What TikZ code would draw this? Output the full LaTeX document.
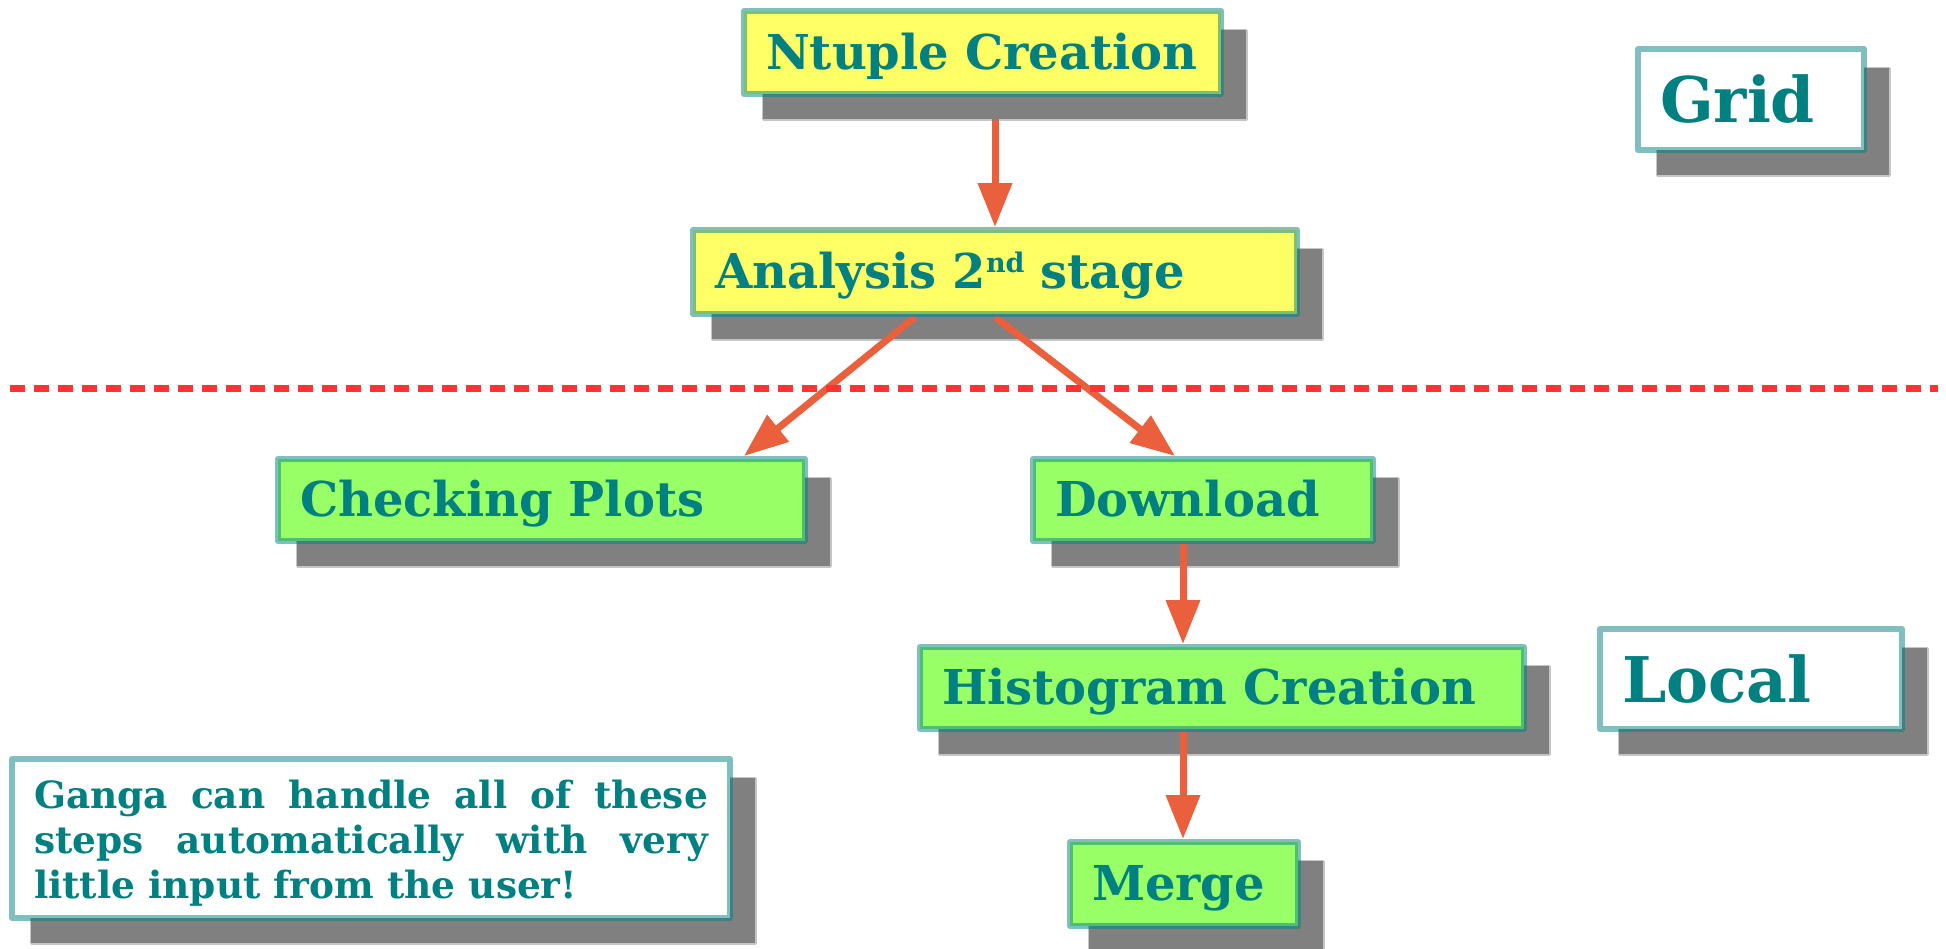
\documentclass[tikz,border=0pt]{standalone}
\usepackage{fontspec}
\setmainfont{DejaVu Serif}
\usetikzlibrary{arrows.meta}
\definecolor{txt}{HTML}{008080}
\definecolor{yfill}{HTML}{FFFF66}
\definecolor{gfill}{HTML}{99FF66}
\definecolor{shadowc}{HTML}{808080}
\definecolor{arrowc}{RGB}{234,96,60}
\definecolor{dashc}{HTML}{FF3333}
\pgfdeclarelayer{bg}
\pgfdeclarelayer{under}
\pgfdeclarelayer{shadowlayer}
\pgfdeclarelayer{arrowlayer}
\pgfsetlayers{bg,under,shadowlayer,arrowlayer,main}
\newcommand{\supnd}{\raisebox{16pt}{\fontsize{27}{27}\selectfont nd}}
\begin{document}
\begin{tikzpicture}[x=1pt,y=-1pt,
  box/.style={anchor=north west, draw=txt, draw opacity=0.5, line width=6pt, line join=round,
    inner xsep=22pt, inner ysep=0pt, align=left, text=txt,
    font=\bfseries\fontsize{48}{56}\selectfont},
  onebox/.style={box, text height=44pt, text depth=11pt},
  ybox/.style={onebox, fill=yfill},
  gbox/.style={onebox, fill=gfill},
  wbox/.style={box, fill=white},
  bigtext/.style={font=\bfseries\fontsize{63}{70}\selectfont, text height=48pt, text depth=2pt},
  shadowst/.style={fill=shadowc, draw=shadowc, draw opacity=0.45, line width=3pt, line join=round},
  arr/.style={draw=arrowc, line width=7pt, -{Triangle[length=44pt,width=33pt]}},
  sep/.style={draw=dashc, line width=7pt, dash pattern=on 15pt off 9pt}]
\begin{pgfonlayer}{bg}
\fill[white] (0,0) rectangle (1946,948);
\end{pgfonlayer}
\useasboundingbox (0,0) rectangle (1946,948);

\node[ybox, text width=433pt, minimum height=83pt] (nt) at (741,8) {Ntuple Creation};
\node[wbox, bigtext, text width=182pt, minimum height=101pt] (grid) at (1635,46) {Grid};
\node[ybox, text width=560pt, minimum height=84pt] (an) at (690,227) {Analysis 2\supnd{} stage};
\node[gbox, text width=483pt, minimum height=82pt] (cp) at (275,456) {Checking Plots};
\node[gbox, text width=296pt, minimum height=82pt] (dl) at (1030,456) {Download};
\node[gbox, text width=560pt, minimum height=82pt] (hc) at (917,644) {Histogram Creation};
\node[wbox, bigtext, text width=258pt, minimum height=100pt] (loc) at (1597,626) {Local};
\node[wbox, text width=674pt, minimum height=159pt, align=justify,
  font=\bfseries\fontsize{37.5}{45}\selectfont] (ganga) at (9,756)
  {\rule{0pt}{38pt}Ganga can handle all of these\linebreak steps automatically with very\linebreak little input from the user!};
\node[gbox, text width=184pt, minimum height=84pt] (mg) at (1067,839) {Merge};

\begin{pgfonlayer}{shadowlayer}
\foreach \n in {nt,grid,an,cp,dl,hc,loc,ganga,mg}
  \path[shadowst] ([shift={(22pt,-22pt)}]\n.north west) rectangle ([shift={(22pt,-22pt)}]\n.south east);
\end{pgfonlayer}

\coordinate (sepL) at (10,388);
\coordinate (sepR) at (1938,388);
\draw[sep] (sepL) -- (sepR);

\begin{pgfonlayer}{under}
\draw[arr] (an.north |- nt.south) -- (an.north);
\end{pgfonlayer}
\begin{pgfonlayer}{arrowlayer}
\draw[arr] ([xshift=225pt]an.south west) -- ([xshift=-64pt]cp.north east);
\draw[arr] (an.south) -- ([xshift=145pt]dl.north west);
\draw[arr] ([xshift=153pt]dl.south west) -- ([xshift=266pt]hc.north west);
\draw[arr] ([xshift=266pt]hc.south west) -- ([xshift=116pt]mg.north west);
\end{pgfonlayer}
\end{tikzpicture}
\end{document}
